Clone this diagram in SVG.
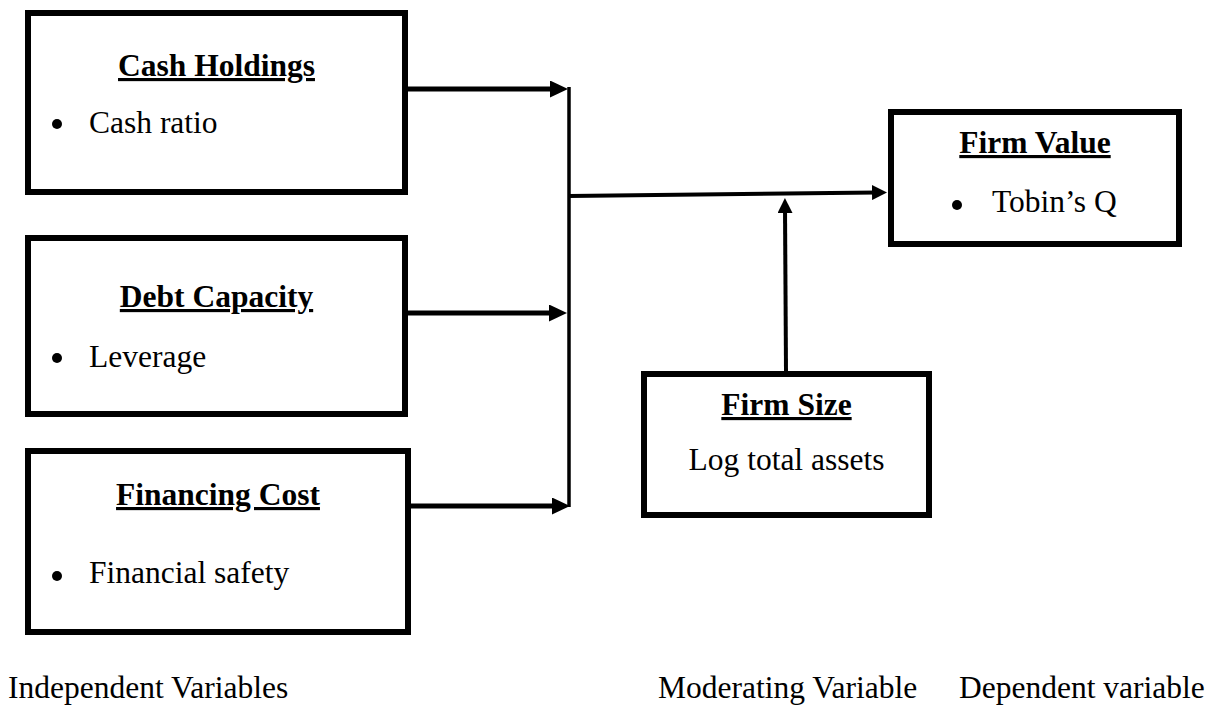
<svg xmlns="http://www.w3.org/2000/svg" width="1217" height="706" viewBox="0 0 1217 706">
<style>
  .box { fill: #ffffff; stroke: #000000; stroke-width: 6; }
  .title { font-family: "Liberation Serif", "Times New Roman", serif; font-size: 31.5px; font-weight: bold; text-decoration: underline; fill: #000000; text-anchor: middle; }
  .txt { font-family: "Liberation Serif", "Times New Roman", serif; font-size: 31.5px; fill: #000000; }
  .mid { text-anchor: middle; }
  .bullet { fill: #000000; }
  .thick { stroke: #000000; stroke-width: 5; fill: none; }
  .thin { stroke: #000000; stroke-width: 4; fill: none; }
  .vline { stroke: #000000; stroke-width: 3.5; fill: none; }
</style>
<defs>
  <marker id="headBig" markerUnits="userSpaceOnUse" markerWidth="18" markerHeight="17" refX="8" refY="8.5" orient="auto">
    <path d="M0,0 L18,8.5 L0,17 Z" fill="#000000"/>
  </marker>
  <marker id="headSmall" markerUnits="userSpaceOnUse" markerWidth="15" markerHeight="15" refX="5" refY="7.5" orient="auto">
    <path d="M0,0 L15,7.5 L0,15 Z" fill="#000000"/>
  </marker>
</defs>

<g id="connectors">
  <line class="vline" x1="569" y1="87" x2="569" y2="507"/>
  <line class="thick" x1="408" y1="89" x2="558" y2="89" marker-end="url(#headBig)"/>
  <line class="thick" x1="408" y1="313" x2="557" y2="313" marker-end="url(#headBig)"/>
  <line class="thick" x1="411" y1="506" x2="560" y2="506" marker-end="url(#headBig)"/>
  <line class="thin" x1="569" y1="196" x2="877" y2="192.5" marker-end="url(#headSmall)"/>
  <line class="thin" x1="786" y1="371" x2="785" y2="208" marker-end="url(#headSmall)"/>
</g>

<g id="cash-holdings">
  <rect class="box" x="28" y="13" width="377" height="179"/>
  <text class="title" x="216.5" y="76">Cash Holdings</text>
  <circle class="bullet" cx="57" cy="124" r="5"/>
  <text class="txt" x="89" y="133">Cash ratio</text>
</g>

<g id="debt-capacity">
  <rect class="box" x="28" y="238" width="377" height="176"/>
  <text class="title" x="216.5" y="307">Debt Capacity</text>
  <circle class="bullet" cx="57" cy="358" r="5"/>
  <text class="txt" x="89" y="367">Leverage</text>
</g>

<g id="financing-cost">
  <rect class="box" x="28" y="451" width="380" height="181"/>
  <text class="title" x="218" y="505">Financing Cost</text>
  <circle class="bullet" cx="57" cy="576" r="5"/>
  <text class="txt" x="89" y="583">Financial safety</text>
</g>

<g id="firm-value">
  <rect class="box" x="891" y="112" width="288" height="132"/>
  <text class="title" x="1035" y="153">Firm Value</text>
  <circle class="bullet" cx="957" cy="205" r="5"/>
  <text class="txt" x="992" y="212">Tobin’s Q</text>
</g>

<g id="firm-size">
  <rect class="box" x="644" y="374" width="285" height="141"/>
  <text class="title" x="786.5" y="415">Firm Size</text>
  <text class="txt mid" x="786.5" y="470">Log total assets</text>
</g>

<g id="labels">
  <text class="txt" x="8" y="698">Independent Variables</text>
  <text class="txt" x="658" y="698">Moderating Variable</text>
  <text class="txt" x="959" y="698">Dependent variable</text>
</g>
</svg>
